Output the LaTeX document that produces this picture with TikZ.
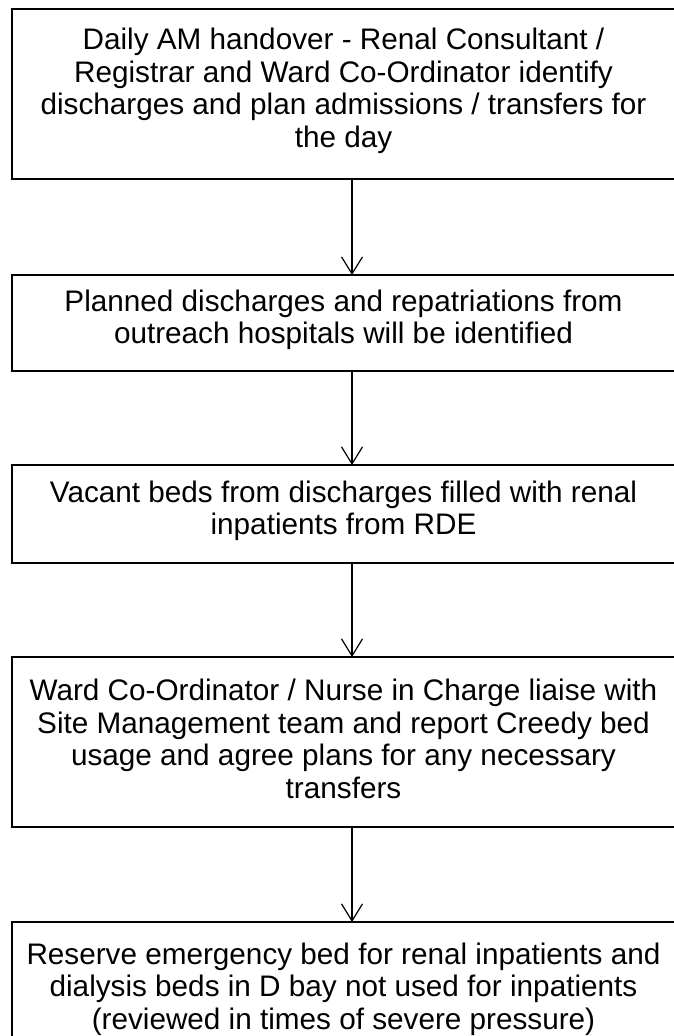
\documentclass[tikz,border=0pt]{standalone}
\usepackage{fontspec}
\setmainfont{Liberation Sans}
\usetikzlibrary{arrows.meta}
\begin{document}
\begin{tikzpicture}[x=1pt,y=-1pt,
  box/.style={draw, line width=1.6pt, minimum width=663pt, anchor=north west,
    inner sep=0pt, outer sep=0pt},
  txt/.style={inner sep=0pt, align=center, yshift=3pt,
    font=\fontsize{29.7}{32.5}\selectfont},
  arr/.style={line width=1.2pt, -{Straight Barb[length=17pt,width=21pt,line width=1.2pt]}}]
\useasboundingbox (0,0) rectangle (673,1036);
\fill[white] (0,0) rectangle (673,1036);
\coordinate (ax) at (352,0);
\node[box, minimum height=170pt] (b1) at (12,9) {};
\node[box, minimum height=96pt] (b2) at (12,275) {};
\node[box, minimum height=98pt] (b3) at (12,465) {};
\node[box, minimum height=170pt] (b4) at (12,657) {};
\node[box, minimum height=140pt] (b5) at (12,922) {};
\node[txt] (t1) at (b1.center)
  {Daily AM handover - Renal Consultant /\\Registrar and Ward Co-Ordinator identify\\discharges and plan admissions / transfers for\\the day};
\node[txt] (t2) at (b2.center)
  {Planned discharges and repatriations from\\outreach hospitals will be identified};
\node[txt] (t3) at (b3.center)
  {Vacant beds from discharges filled with renal\\inpatients from RDE};
\node[txt] (t4) at (b4.center)
  {Ward Co-Ordinator / Nurse in Charge liaise with\\Site Management team and report Creedy bed\\usage and agree plans for any necessary\\transfers};
\node[txt] (t5) at (b5.center)
  {Reserve emergency bed for renal inpatients and\\dialysis beds in D bay not used for inpatients\\(reviewed in times of severe pressure)};
\draw[arr] (b1.south -| ax) -- (b2.north -| ax);
\draw[arr] (b2.south -| ax) -- (b3.north -| ax);
\draw[arr] (b3.south -| ax) -- (b4.north -| ax);
\draw[arr] (b4.south -| ax) -- (b5.north -| ax);
\end{tikzpicture}
\end{document}
